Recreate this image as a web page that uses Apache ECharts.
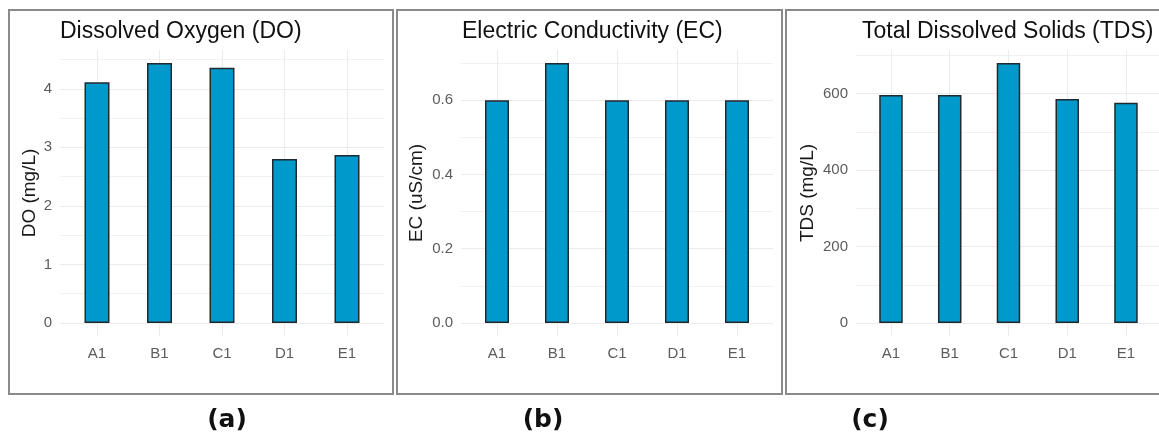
<!DOCTYPE html>
<html>
<head>
<meta charset="utf-8">
<script src="https://cdn.jsdelivr.net/npm/echarts@6/dist/echarts.min.js"></script>
<style>
  html, body { margin: 0; padding: 0; background: #ffffff; }
  #chart { width: 1159px; height: 433px; }
</style>
</head>
<body>
<div id="chart"></div>
<script>
// Sampling stations
const categories = ['A1', 'B1', 'C1', 'D1', 'E1'];

// Measured values per station
const doValues = [4.11, 4.44, 4.36, 2.80, 2.87];   // mg/L
const ecValues = [0.6, 0.7, 0.6, 0.6, 0.6];        // uS/cm
const tdsValues = [596, 596, 680, 586, 576];       // mg/L

// Texts
const panelTitles = ['Dissolved Oxygen (DO)', 'Electric Conductivity (EC)', 'Total Dissolved Solids (TDS)'];
const yAxisNames = ['DO (mg/L)', 'EC (uS/cm)', 'TDS (mg/L)'];
const panelLetters = ['(a)', '(b)', '(c)'];
const seriesValues = [doValues, ecValues, tdsValues];

// Layout of each panel (pixels)
const layout = [
  { box: [9, 10, 384, 384],   panelLeft: 60,  panelWidth: 324,   barLeft: 65.75, barWidth: 312.5,  nameGap: 19, splitNumber: 5, decimals: 0, titleX: 60,  letterX: 227 },
  { box: [397, 10, 385, 384], panelLeft: 461, panelWidth: 312,   barLeft: 467,   barWidth: 300,    nameGap: 35, splitNumber: 4, decimals: 1, titleX: 462, letterX: 543 },
  { box: [786, 10, 400, 384], panelLeft: 856, panelWidth: 305.5, barLeft: 861.6, barWidth: 293.75, nameGap: 39, splitNumber: 3, decimals: 0, titleX: 862, letterX: 870 }
];
const plotTop = 50;
const plotHeight = 286;

const FONT = '"Liberation Sans", Arial, sans-serif';
const BAR_FILL = '#0099CC';
const GRID_MAJOR = '#EBEBEB';
const GRID_MINOR = '#F1F1F1';
const TICK_TEXT = '#5c5c5c';

const grids = [];
const xAxes = [];
const yAxes = [];
const series = [];
const graphics = [];

layout.forEach((p, i) => {
  const values = seriesValues[i];
  const vmax = Math.max.apply(null, values);
  // 5% padding below zero and above the tallest bar
  const lo = -0.05 * vmax;
  const hi = 1.05 * vmax;

  // background grid: horizontal gridlines, y labels and axis title
  grids.push({ left: p.panelLeft, top: plotTop, width: p.panelWidth, height: plotHeight, outerBoundsMode: 'none', containLabel: false });
  // foreground grid: bars on the category axis
  grids.push({ left: p.barLeft, top: plotTop, width: p.barWidth, height: plotHeight, outerBoundsMode: 'none', containLabel: false });

  const bgIdx = 2 * i;
  const fgIdx = 2 * i + 1;

  xAxes.push({
    gridIndex: bgIdx, type: 'value', min: 0, max: 1, show: false
  });
  xAxes.push({
    gridIndex: fgIdx, type: 'category', data: categories, boundaryGap: true,
    axisLine: { show: false, onZero: false },
    axisTick: { show: true, alignWithLabel: true, inside: true, length: plotHeight, lineStyle: { color: GRID_MAJOR, width: 1 } },
    axisLabel: { color: TICK_TEXT, fontSize: 15, fontFamily: FONT, margin: 10 },
    splitLine: { show: false }
  });

  yAxes.push({
    gridIndex: bgIdx, type: 'value', min: lo, max: hi, splitNumber: p.splitNumber,
    name: yAxisNames[i], nameLocation: 'middle', nameRotate: 90, nameGap: p.nameGap,
    nameTextStyle: { color: '#1a1a1a', fontSize: 19, fontFamily: FONT },
    axisLine: { show: false }, axisTick: { show: false },
    axisLabel: {
      color: TICK_TEXT, fontSize: 15, fontFamily: FONT, margin: 8,
      showMinLabel: false, showMaxLabel: false,
      formatter: (v) => v.toFixed(p.decimals)
    },
    splitLine: { show: true, showMinLine: false, showMaxLine: false, lineStyle: { color: GRID_MAJOR, width: 1 } },
    minorTick: { show: false, splitNumber: 2 },
    minorSplitLine: { show: true, lineStyle: { color: GRID_MINOR, width: 1 } }
  });
  yAxes.push({
    gridIndex: fgIdx, type: 'value', min: lo, max: hi, show: false,
    splitLine: { show: false }
  });

  series.push({
    type: 'bar', xAxisIndex: fgIdx, yAxisIndex: fgIdx, data: values,
    barWidth: '40%', z: 2,
    itemStyle: { color: BAR_FILL, borderColor: '#1f2a30', borderWidth: 1.5 },
    emphasis: { disabled: true }, silent: true
  });

  // panel frame
  graphics.push({
    type: 'rect', silent: true, z: 10,
    shape: { x: p.box[0], y: p.box[1], width: p.box[2], height: p.box[3] },
    style: { fill: 'none', stroke: '#8a8a8a', lineWidth: 2 }
  });
  // panel title
  graphics.push({
    type: 'text', silent: true, z: 10, x: p.titleX, y: 32,
    style: { text: panelTitles[i], fill: '#111111', font: '23px ' + FONT, textAlign: 'left', textVerticalAlign: 'middle' }
  });
  // panel letter under the frame
  graphics.push({
    type: 'text', silent: true, z: 10, x: p.letterX, y: 420,
    style: { text: panelLetters[i], fill: '#111111', font: 'bold 25px "DejaVu Sans", Verdana, sans-serif', textAlign: 'center', textVerticalAlign: 'middle' }
  });
});

const chart = echarts.init(document.getElementById('chart'), null, { renderer: 'canvas' });
chart.setOption({
  backgroundColor: '#ffffff',
  animation: false,
  grid: grids,
  xAxis: xAxes,
  yAxis: yAxes,
  series: series,
  graphic: graphics
});
</script>
</body>
</html>
